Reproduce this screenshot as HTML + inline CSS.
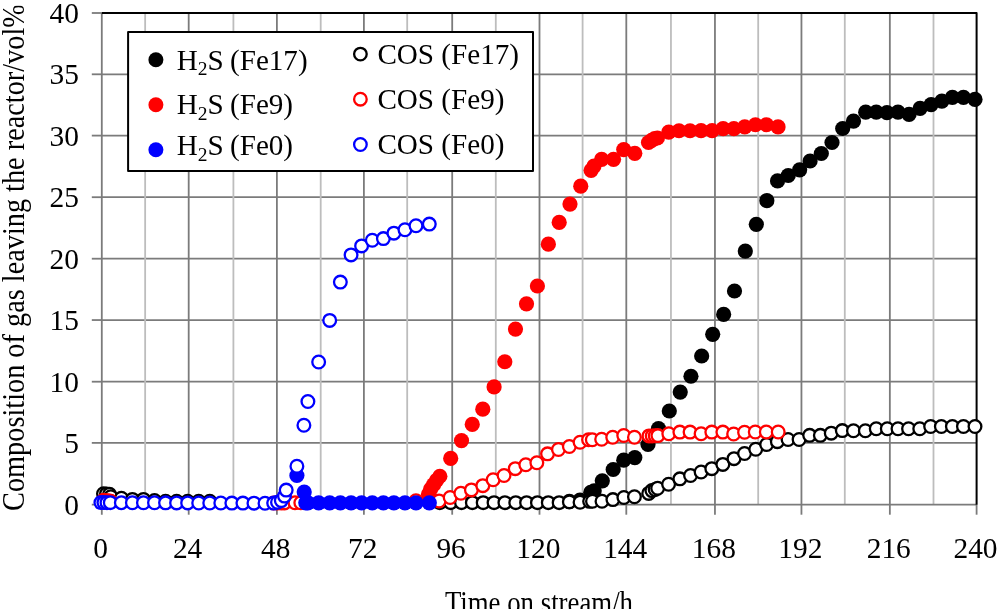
<!DOCTYPE html>
<html><head><meta charset="utf-8"><title>Chart</title>
<style>
html,body{margin:0;padding:0;background:#fff;}
body{width:1000px;height:612px;position:relative;overflow:hidden;font-family:"Liberation Serif",serif;}
</style></head><body>
<svg width="1000" height="612" viewBox="0 0 1000 612" style="position:absolute;left:0;top:0;will-change:transform"><line x1="101.80" x2="976.60" y1="442.90" y2="442.90" stroke="#7b7b7b" stroke-width="1.8"/><line x1="101.80" x2="976.60" y1="381.70" y2="381.70" stroke="#7b7b7b" stroke-width="1.8"/><line x1="101.80" x2="976.60" y1="320.05" y2="320.05" stroke="#7b7b7b" stroke-width="1.8"/><line x1="101.80" x2="976.60" y1="258.70" y2="258.70" stroke="#7b7b7b" stroke-width="1.8"/><line x1="101.80" x2="976.60" y1="197.20" y2="197.20" stroke="#7b7b7b" stroke-width="1.8"/><line x1="101.80" x2="976.60" y1="135.60" y2="135.60" stroke="#7b7b7b" stroke-width="1.8"/><line x1="101.80" x2="976.60" y1="74.30" y2="74.30" stroke="#7b7b7b" stroke-width="1.8"/><line x1="145.15" x2="145.15" y1="13.00" y2="504.70" stroke="#bdbdbd" stroke-width="1.8"/><line x1="188.70" x2="188.70" y1="13.00" y2="504.70" stroke="#7b7b7b" stroke-width="1.8"/><line x1="233.40" x2="233.40" y1="13.00" y2="504.70" stroke="#bdbdbd" stroke-width="1.8"/><line x1="276.90" x2="276.90" y1="13.00" y2="504.70" stroke="#7b7b7b" stroke-width="1.8"/><line x1="320.70" x2="320.70" y1="13.00" y2="504.70" stroke="#bdbdbd" stroke-width="1.8"/><line x1="363.90" x2="363.90" y1="13.00" y2="504.70" stroke="#7b7b7b" stroke-width="1.8"/><line x1="407.20" x2="407.20" y1="13.00" y2="504.70" stroke="#bdbdbd" stroke-width="1.8"/><line x1="452.20" x2="452.20" y1="13.00" y2="504.70" stroke="#7b7b7b" stroke-width="1.8"/><line x1="495.80" x2="495.80" y1="13.00" y2="504.70" stroke="#bdbdbd" stroke-width="1.8"/><line x1="539.50" x2="539.50" y1="13.00" y2="504.70" stroke="#7b7b7b" stroke-width="1.8"/><line x1="582.60" x2="582.60" y1="13.00" y2="504.70" stroke="#bdbdbd" stroke-width="1.8"/><line x1="626.30" x2="626.30" y1="13.00" y2="504.70" stroke="#7b7b7b" stroke-width="1.8"/><line x1="670.95" x2="670.95" y1="13.00" y2="504.70" stroke="#bdbdbd" stroke-width="1.8"/><line x1="714.95" x2="714.95" y1="13.00" y2="504.70" stroke="#7b7b7b" stroke-width="1.8"/><line x1="758.20" x2="758.20" y1="13.00" y2="504.70" stroke="#bdbdbd" stroke-width="1.8"/><line x1="801.45" x2="801.45" y1="13.00" y2="504.70" stroke="#7b7b7b" stroke-width="1.8"/><line x1="844.80" x2="844.80" y1="13.00" y2="504.70" stroke="#bdbdbd" stroke-width="1.8"/><line x1="889.85" x2="889.85" y1="13.00" y2="504.70" stroke="#7b7b7b" stroke-width="1.8"/><line x1="933.50" x2="933.50" y1="13.00" y2="504.70" stroke="#bdbdbd" stroke-width="1.8"/><line x1="101.80" x2="101.80" y1="13.00" y2="514.70" stroke="#7b7b7b" stroke-width="1.8"/><line x1="91.80" x2="976.60" y1="504.70" y2="504.70" stroke="#7b7b7b" stroke-width="1.8"/><line x1="91.80" x2="101.80" y1="442.90" y2="442.90" stroke="#7b7b7b" stroke-width="1.8"/><line x1="91.80" x2="101.80" y1="381.70" y2="381.70" stroke="#7b7b7b" stroke-width="1.8"/><line x1="91.80" x2="101.80" y1="320.05" y2="320.05" stroke="#7b7b7b" stroke-width="1.8"/><line x1="91.80" x2="101.80" y1="258.70" y2="258.70" stroke="#7b7b7b" stroke-width="1.8"/><line x1="91.80" x2="101.80" y1="197.20" y2="197.20" stroke="#7b7b7b" stroke-width="1.8"/><line x1="91.80" x2="101.80" y1="135.60" y2="135.60" stroke="#7b7b7b" stroke-width="1.8"/><line x1="91.80" x2="101.80" y1="74.30" y2="74.30" stroke="#7b7b7b" stroke-width="1.8"/><line x1="91.80" x2="101.80" y1="13.00" y2="13.00" stroke="#7b7b7b" stroke-width="1.8"/><line x1="188.70" x2="188.70" y1="504.70" y2="514.70" stroke="#7b7b7b" stroke-width="1.8"/><line x1="276.90" x2="276.90" y1="504.70" y2="514.70" stroke="#7b7b7b" stroke-width="1.8"/><line x1="363.90" x2="363.90" y1="504.70" y2="514.70" stroke="#7b7b7b" stroke-width="1.8"/><line x1="452.20" x2="452.20" y1="504.70" y2="514.70" stroke="#7b7b7b" stroke-width="1.8"/><line x1="539.50" x2="539.50" y1="504.70" y2="514.70" stroke="#7b7b7b" stroke-width="1.8"/><line x1="626.30" x2="626.30" y1="504.70" y2="514.70" stroke="#7b7b7b" stroke-width="1.8"/><line x1="714.95" x2="714.95" y1="504.70" y2="514.70" stroke="#7b7b7b" stroke-width="1.8"/><line x1="801.45" x2="801.45" y1="504.70" y2="514.70" stroke="#7b7b7b" stroke-width="1.8"/><line x1="889.85" x2="889.85" y1="504.70" y2="514.70" stroke="#7b7b7b" stroke-width="1.8"/><line x1="976.60" x2="976.60" y1="504.70" y2="514.70" stroke="#7b7b7b" stroke-width="1.8"/><path d="M101.80 13.00 H976.60 V504.70" fill="none" stroke="#000" stroke-width="2" stroke-linejoin="round"/><rect x="128.1" y="32.0" width="404.9" height="139.0" fill="#fff" stroke="#000" stroke-width="2" stroke-linejoin="round"/><circle cx="569.40" cy="501.30" r="7.6" fill="#000"/><circle cx="580.00" cy="500.00" r="7.6" fill="#000"/><circle cx="590.80" cy="492.30" r="7.6" fill="#000"/><circle cx="594.20" cy="490.80" r="7.6" fill="#000"/><circle cx="602.30" cy="480.80" r="7.6" fill="#000"/><circle cx="613.20" cy="469.50" r="7.6" fill="#000"/><circle cx="623.75" cy="460.15" r="7.6" fill="#000"/><circle cx="634.80" cy="457.60" r="7.6" fill="#000"/><circle cx="648.00" cy="444.50" r="7.6" fill="#000"/><circle cx="658.50" cy="428.50" r="7.6" fill="#000"/><circle cx="669.30" cy="411.00" r="7.6" fill="#000"/><circle cx="680.25" cy="392.05" r="7.6" fill="#000"/><circle cx="690.95" cy="376.25" r="7.6" fill="#000"/><circle cx="701.65" cy="356.00" r="7.6" fill="#000"/><circle cx="712.70" cy="334.30" r="7.6" fill="#000"/><circle cx="723.65" cy="314.45" r="7.6" fill="#000"/><circle cx="734.50" cy="291.00" r="7.6" fill="#000"/><circle cx="745.30" cy="251.10" r="7.6" fill="#000"/><circle cx="756.30" cy="224.30" r="7.6" fill="#000"/><circle cx="766.85" cy="200.65" r="7.6" fill="#000"/><circle cx="777.55" cy="180.95" r="7.6" fill="#000"/><circle cx="788.25" cy="175.50" r="7.6" fill="#000"/><circle cx="799.65" cy="169.80" r="7.6" fill="#000"/><circle cx="810.10" cy="161.00" r="7.6" fill="#000"/><circle cx="821.30" cy="153.50" r="7.6" fill="#000"/><circle cx="832.00" cy="142.50" r="7.6" fill="#000"/><circle cx="842.70" cy="128.50" r="7.6" fill="#000"/><circle cx="853.50" cy="121.10" r="7.6" fill="#000"/><circle cx="865.70" cy="112.20" r="7.6" fill="#000"/><circle cx="876.25" cy="112.20" r="7.6" fill="#000"/><circle cx="886.95" cy="112.70" r="7.6" fill="#000"/><circle cx="898.00" cy="112.20" r="7.6" fill="#000"/><circle cx="909.05" cy="114.40" r="7.6" fill="#000"/><circle cx="920.10" cy="108.45" r="7.6" fill="#000"/><circle cx="931.15" cy="104.55" r="7.6" fill="#000"/><circle cx="941.85" cy="101.15" r="7.6" fill="#000"/><circle cx="952.40" cy="97.40" r="7.6" fill="#000"/><circle cx="963.45" cy="97.40" r="7.6" fill="#000"/><circle cx="975.00" cy="99.45" r="7.6" fill="#000"/><circle cx="103.50" cy="493.80" r="6.35" fill="#fff" stroke="#000" stroke-width="2.3"/><circle cx="106.50" cy="493.90" r="6.35" fill="#fff" stroke="#000" stroke-width="2.3"/><circle cx="109.50" cy="494.20" r="6.35" fill="#fff" stroke="#000" stroke-width="2.3"/><circle cx="110.80" cy="496.70" r="6.35" fill="#fff" stroke="#000" stroke-width="2.3"/><circle cx="121.40" cy="498.20" r="6.35" fill="#fff" stroke="#000" stroke-width="2.3"/><circle cx="132.40" cy="499.40" r="6.35" fill="#fff" stroke="#000" stroke-width="2.3"/><circle cx="143.45" cy="499.40" r="6.35" fill="#fff" stroke="#000" stroke-width="2.3"/><circle cx="154.50" cy="500.50" r="6.35" fill="#fff" stroke="#000" stroke-width="2.3"/><circle cx="165.55" cy="501.30" r="6.35" fill="#fff" stroke="#000" stroke-width="2.3"/><circle cx="176.60" cy="501.30" r="6.35" fill="#fff" stroke="#000" stroke-width="2.3"/><circle cx="187.65" cy="501.30" r="6.35" fill="#fff" stroke="#000" stroke-width="2.3"/><circle cx="198.70" cy="501.30" r="6.35" fill="#fff" stroke="#000" stroke-width="2.3"/><circle cx="209.75" cy="501.30" r="6.35" fill="#fff" stroke="#000" stroke-width="2.3"/><circle cx="439.80" cy="502.65" r="6.35" fill="#fff" stroke="#000" stroke-width="2.3"/><circle cx="450.65" cy="502.65" r="6.35" fill="#fff" stroke="#000" stroke-width="2.3"/><circle cx="461.50" cy="502.65" r="6.35" fill="#fff" stroke="#000" stroke-width="2.3"/><circle cx="472.35" cy="502.65" r="6.35" fill="#fff" stroke="#000" stroke-width="2.3"/><circle cx="483.20" cy="502.65" r="6.35" fill="#fff" stroke="#000" stroke-width="2.3"/><circle cx="494.05" cy="502.65" r="6.35" fill="#fff" stroke="#000" stroke-width="2.3"/><circle cx="504.90" cy="502.65" r="6.35" fill="#fff" stroke="#000" stroke-width="2.3"/><circle cx="515.75" cy="502.65" r="6.35" fill="#fff" stroke="#000" stroke-width="2.3"/><circle cx="526.60" cy="502.65" r="6.35" fill="#fff" stroke="#000" stroke-width="2.3"/><circle cx="537.45" cy="502.65" r="6.35" fill="#fff" stroke="#000" stroke-width="2.3"/><circle cx="548.30" cy="502.65" r="6.35" fill="#fff" stroke="#000" stroke-width="2.3"/><circle cx="559.15" cy="502.65" r="6.35" fill="#fff" stroke="#000" stroke-width="2.3"/><circle cx="569.35" cy="501.90" r="6.35" fill="#fff" stroke="#000" stroke-width="2.3"/><circle cx="580.05" cy="502.20" r="6.35" fill="#fff" stroke="#000" stroke-width="2.3"/><circle cx="589.60" cy="501.35" r="6.35" fill="#fff" stroke="#000" stroke-width="2.3"/><circle cx="592.50" cy="501.20" r="6.35" fill="#fff" stroke="#000" stroke-width="2.3"/><circle cx="602.00" cy="501.20" r="6.35" fill="#fff" stroke="#000" stroke-width="2.3"/><circle cx="612.90" cy="499.60" r="6.35" fill="#fff" stroke="#000" stroke-width="2.3"/><circle cx="623.90" cy="497.55" r="6.35" fill="#fff" stroke="#000" stroke-width="2.3"/><circle cx="634.45" cy="496.70" r="6.35" fill="#fff" stroke="#000" stroke-width="2.3"/><circle cx="648.70" cy="493.40" r="6.35" fill="#fff" stroke="#000" stroke-width="2.3"/><circle cx="651.90" cy="490.60" r="6.35" fill="#fff" stroke="#000" stroke-width="2.3"/><circle cx="655.15" cy="489.50" r="6.35" fill="#fff" stroke="#000" stroke-width="2.3"/><circle cx="657.65" cy="488.20" r="6.35" fill="#fff" stroke="#000" stroke-width="2.3"/><circle cx="668.60" cy="484.20" r="6.35" fill="#fff" stroke="#000" stroke-width="2.3"/><circle cx="679.85" cy="478.85" r="6.35" fill="#fff" stroke="#000" stroke-width="2.3"/><circle cx="690.55" cy="475.45" r="6.35" fill="#fff" stroke="#000" stroke-width="2.3"/><circle cx="701.10" cy="472.05" r="6.35" fill="#fff" stroke="#000" stroke-width="2.3"/><circle cx="711.80" cy="468.65" r="6.35" fill="#fff" stroke="#000" stroke-width="2.3"/><circle cx="722.85" cy="464.40" r="6.35" fill="#fff" stroke="#000" stroke-width="2.3"/><circle cx="734.00" cy="458.65" r="6.35" fill="#fff" stroke="#000" stroke-width="2.3"/><circle cx="744.55" cy="453.55" r="6.35" fill="#fff" stroke="#000" stroke-width="2.3"/><circle cx="755.75" cy="449.30" r="6.35" fill="#fff" stroke="#000" stroke-width="2.3"/><circle cx="766.65" cy="444.55" r="6.35" fill="#fff" stroke="#000" stroke-width="2.3"/><circle cx="777.35" cy="441.65" r="6.35" fill="#fff" stroke="#000" stroke-width="2.3"/><circle cx="788.05" cy="439.45" r="6.35" fill="#fff" stroke="#000" stroke-width="2.3"/><circle cx="799.10" cy="439.45" r="6.35" fill="#fff" stroke="#000" stroke-width="2.3"/><circle cx="809.65" cy="435.35" r="6.35" fill="#fff" stroke="#000" stroke-width="2.3"/><circle cx="820.35" cy="435.35" r="6.35" fill="#fff" stroke="#000" stroke-width="2.3"/><circle cx="831.25" cy="433.15" r="6.35" fill="#fff" stroke="#000" stroke-width="2.3"/><circle cx="842.30" cy="430.60" r="6.35" fill="#fff" stroke="#000" stroke-width="2.3"/><circle cx="853.45" cy="430.80" r="6.35" fill="#fff" stroke="#000" stroke-width="2.3"/><circle cx="865.35" cy="430.80" r="6.35" fill="#fff" stroke="#000" stroke-width="2.3"/><circle cx="876.25" cy="428.75" r="6.35" fill="#fff" stroke="#000" stroke-width="2.3"/><circle cx="887.30" cy="428.75" r="6.35" fill="#fff" stroke="#000" stroke-width="2.3"/><circle cx="898.00" cy="428.75" r="6.35" fill="#fff" stroke="#000" stroke-width="2.3"/><circle cx="908.55" cy="428.75" r="6.35" fill="#fff" stroke="#000" stroke-width="2.3"/><circle cx="919.75" cy="428.75" r="6.35" fill="#fff" stroke="#000" stroke-width="2.3"/><circle cx="930.65" cy="426.55" r="6.35" fill="#fff" stroke="#000" stroke-width="2.3"/><circle cx="941.35" cy="426.55" r="6.35" fill="#fff" stroke="#000" stroke-width="2.3"/><circle cx="952.40" cy="426.55" r="6.35" fill="#fff" stroke="#000" stroke-width="2.3"/><circle cx="963.45" cy="426.55" r="6.35" fill="#fff" stroke="#000" stroke-width="2.3"/><circle cx="975.00" cy="426.55" r="6.35" fill="#fff" stroke="#000" stroke-width="2.3"/><circle cx="428.45" cy="494.30" r="7.6" fill="#f00"/><circle cx="430.65" cy="489.10" r="7.6" fill="#f00"/><circle cx="433.60" cy="484.70" r="7.6" fill="#f00"/><circle cx="436.55" cy="480.30" r="7.6" fill="#f00"/><circle cx="439.85" cy="476.25" r="7.6" fill="#f00"/><circle cx="450.70" cy="458.45" r="7.6" fill="#f00"/><circle cx="461.50" cy="440.60" r="7.6" fill="#f00"/><circle cx="472.25" cy="424.45" r="7.6" fill="#f00"/><circle cx="482.80" cy="409.15" r="7.6" fill="#f00"/><circle cx="494.10" cy="386.90" r="7.6" fill="#f00"/><circle cx="504.80" cy="361.75" r="7.6" fill="#f00"/><circle cx="515.50" cy="329.10" r="7.6" fill="#f00"/><circle cx="526.50" cy="303.80" r="7.6" fill="#f00"/><circle cx="537.40" cy="286.00" r="7.6" fill="#f00"/><circle cx="548.35" cy="244.20" r="7.6" fill="#f00"/><circle cx="559.20" cy="222.45" r="7.6" fill="#f00"/><circle cx="570.00" cy="204.10" r="7.6" fill="#f00"/><circle cx="580.75" cy="186.20" r="7.6" fill="#f00"/><circle cx="591.10" cy="170.35" r="7.6" fill="#f00"/><circle cx="594.00" cy="166.10" r="7.6" fill="#f00"/><circle cx="601.65" cy="159.30" r="7.6" fill="#f00"/><circle cx="613.55" cy="159.30" r="7.6" fill="#f00"/><circle cx="623.75" cy="149.60" r="7.6" fill="#f00"/><circle cx="634.80" cy="153.35" r="7.6" fill="#f00"/><circle cx="648.50" cy="142.50" r="7.6" fill="#f00"/><circle cx="651.70" cy="140.30" r="7.6" fill="#f00"/><circle cx="654.70" cy="138.50" r="7.6" fill="#f00"/><circle cx="657.40" cy="138.00" r="7.6" fill="#f00"/><circle cx="668.80" cy="132.10" r="7.6" fill="#f00"/><circle cx="679.00" cy="130.75" r="7.6" fill="#f00"/><circle cx="690.05" cy="130.75" r="7.6" fill="#f00"/><circle cx="701.05" cy="130.70" r="7.6" fill="#f00"/><circle cx="712.10" cy="130.70" r="7.6" fill="#f00"/><circle cx="723.15" cy="128.65" r="7.6" fill="#f00"/><circle cx="733.85" cy="128.65" r="7.6" fill="#f00"/><circle cx="744.75" cy="126.95" r="7.6" fill="#f00"/><circle cx="755.45" cy="124.75" r="7.6" fill="#f00"/><circle cx="766.50" cy="124.75" r="7.6" fill="#f00"/><circle cx="778.05" cy="126.95" r="7.6" fill="#f00"/><circle cx="103.50" cy="500.20" r="6.35" fill="#fff" stroke="#f00" stroke-width="2.3"/><circle cx="106.50" cy="500.50" r="6.35" fill="#fff" stroke="#f00" stroke-width="2.3"/><circle cx="109.50" cy="500.90" r="6.35" fill="#fff" stroke="#f00" stroke-width="2.3"/><circle cx="110.60" cy="501.30" r="6.35" fill="#fff" stroke="#f00" stroke-width="2.3"/><circle cx="273.65" cy="502.90" r="6.35" fill="#fff" stroke="#f00" stroke-width="2.3"/><circle cx="277.50" cy="502.90" r="6.35" fill="#fff" stroke="#f00" stroke-width="2.3"/><circle cx="281.30" cy="502.90" r="6.35" fill="#fff" stroke="#f00" stroke-width="2.3"/><circle cx="284.50" cy="502.90" r="6.35" fill="#fff" stroke="#f00" stroke-width="2.3"/><circle cx="295.00" cy="502.80" r="6.35" fill="#fff" stroke="#f00" stroke-width="2.3"/><circle cx="300.80" cy="502.80" r="6.35" fill="#fff" stroke="#f00" stroke-width="2.3"/><circle cx="415.95" cy="500.70" r="6.35" fill="#fff" stroke="#f00" stroke-width="2.3"/><circle cx="439.10" cy="500.95" r="6.35" fill="#fff" stroke="#f00" stroke-width="2.3"/><circle cx="450.15" cy="497.55" r="6.35" fill="#fff" stroke="#f00" stroke-width="2.3"/><circle cx="460.85" cy="493.30" r="6.35" fill="#fff" stroke="#f00" stroke-width="2.3"/><circle cx="471.40" cy="489.90" r="6.35" fill="#fff" stroke="#f00" stroke-width="2.3"/><circle cx="482.80" cy="485.65" r="6.35" fill="#fff" stroke="#f00" stroke-width="2.3"/><circle cx="493.15" cy="479.70" r="6.35" fill="#fff" stroke="#f00" stroke-width="2.3"/><circle cx="504.05" cy="475.45" r="6.35" fill="#fff" stroke="#f00" stroke-width="2.3"/><circle cx="515.25" cy="468.65" r="6.35" fill="#fff" stroke="#f00" stroke-width="2.3"/><circle cx="525.80" cy="464.75" r="6.35" fill="#fff" stroke="#f00" stroke-width="2.3"/><circle cx="536.85" cy="462.70" r="6.35" fill="#fff" stroke="#f00" stroke-width="2.3"/><circle cx="547.55" cy="453.85" r="6.35" fill="#fff" stroke="#f00" stroke-width="2.3"/><circle cx="558.45" cy="449.45" r="6.35" fill="#fff" stroke="#f00" stroke-width="2.3"/><circle cx="569.35" cy="446.55" r="6.35" fill="#fff" stroke="#f00" stroke-width="2.3"/><circle cx="580.05" cy="442.30" r="6.35" fill="#fff" stroke="#f00" stroke-width="2.3"/><circle cx="588.55" cy="439.75" r="6.35" fill="#fff" stroke="#f00" stroke-width="2.3"/><circle cx="592.30" cy="439.75" r="6.35" fill="#fff" stroke="#f00" stroke-width="2.3"/><circle cx="601.65" cy="439.25" r="6.35" fill="#fff" stroke="#f00" stroke-width="2.3"/><circle cx="612.70" cy="437.20" r="6.35" fill="#fff" stroke="#f00" stroke-width="2.3"/><circle cx="623.75" cy="435.50" r="6.35" fill="#fff" stroke="#f00" stroke-width="2.3"/><circle cx="634.45" cy="437.20" r="6.35" fill="#fff" stroke="#f00" stroke-width="2.3"/><circle cx="649.00" cy="435.90" r="6.35" fill="#fff" stroke="#f00" stroke-width="2.3"/><circle cx="652.20" cy="435.90" r="6.35" fill="#fff" stroke="#f00" stroke-width="2.3"/><circle cx="655.20" cy="435.80" r="6.35" fill="#fff" stroke="#f00" stroke-width="2.3"/><circle cx="657.90" cy="435.60" r="6.35" fill="#fff" stroke="#f00" stroke-width="2.3"/><circle cx="668.80" cy="433.80" r="6.35" fill="#fff" stroke="#f00" stroke-width="2.3"/><circle cx="679.85" cy="432.10" r="6.35" fill="#fff" stroke="#f00" stroke-width="2.3"/><circle cx="690.05" cy="432.10" r="6.35" fill="#fff" stroke="#f00" stroke-width="2.3"/><circle cx="701.10" cy="433.80" r="6.35" fill="#fff" stroke="#f00" stroke-width="2.3"/><circle cx="711.80" cy="432.10" r="6.35" fill="#fff" stroke="#f00" stroke-width="2.3"/><circle cx="722.85" cy="432.10" r="6.35" fill="#fff" stroke="#f00" stroke-width="2.3"/><circle cx="733.65" cy="434.00" r="6.35" fill="#fff" stroke="#f00" stroke-width="2.3"/><circle cx="744.55" cy="432.30" r="6.35" fill="#fff" stroke="#f00" stroke-width="2.3"/><circle cx="755.25" cy="431.95" r="6.35" fill="#fff" stroke="#f00" stroke-width="2.3"/><circle cx="766.30" cy="431.95" r="6.35" fill="#fff" stroke="#f00" stroke-width="2.3"/><circle cx="778.20" cy="431.95" r="6.35" fill="#fff" stroke="#f00" stroke-width="2.3"/><circle cx="296.90" cy="475.50" r="7.6" fill="#00f"/><circle cx="304.20" cy="492.00" r="7.6" fill="#00f"/><circle cx="305.80" cy="502.80" r="7.6" fill="#00f"/><circle cx="307.90" cy="502.80" r="7.6" fill="#00f"/><circle cx="318.65" cy="502.80" r="7.6" fill="#00f"/><circle cx="329.70" cy="502.80" r="7.6" fill="#00f"/><circle cx="340.35" cy="502.80" r="7.6" fill="#00f"/><circle cx="351.06" cy="502.80" r="7.6" fill="#00f"/><circle cx="361.60" cy="502.80" r="7.6" fill="#00f"/><circle cx="372.30" cy="502.80" r="7.6" fill="#00f"/><circle cx="383.40" cy="502.80" r="7.6" fill="#00f"/><circle cx="393.90" cy="502.80" r="7.6" fill="#00f"/><circle cx="404.96" cy="502.80" r="7.6" fill="#00f"/><circle cx="416.00" cy="502.80" r="7.6" fill="#00f"/><circle cx="429.30" cy="502.80" r="7.6" fill="#00f"/><circle cx="100.90" cy="502.60" r="6.35" fill="#fff" stroke="#00f" stroke-width="2.3"/><circle cx="103.90" cy="502.61" r="6.35" fill="#fff" stroke="#00f" stroke-width="2.3"/><circle cx="107.00" cy="502.63" r="6.35" fill="#fff" stroke="#00f" stroke-width="2.3"/><circle cx="110.30" cy="502.64" r="6.35" fill="#fff" stroke="#00f" stroke-width="2.3"/><circle cx="121.35" cy="502.68" r="6.35" fill="#fff" stroke="#00f" stroke-width="2.3"/><circle cx="132.40" cy="502.72" r="6.35" fill="#fff" stroke="#00f" stroke-width="2.3"/><circle cx="143.45" cy="502.76" r="6.35" fill="#fff" stroke="#00f" stroke-width="2.3"/><circle cx="154.50" cy="502.80" r="6.35" fill="#fff" stroke="#00f" stroke-width="2.3"/><circle cx="165.55" cy="502.84" r="6.35" fill="#fff" stroke="#00f" stroke-width="2.3"/><circle cx="176.60" cy="502.88" r="6.35" fill="#fff" stroke="#00f" stroke-width="2.3"/><circle cx="187.65" cy="502.92" r="6.35" fill="#fff" stroke="#00f" stroke-width="2.3"/><circle cx="198.70" cy="502.96" r="6.35" fill="#fff" stroke="#00f" stroke-width="2.3"/><circle cx="209.75" cy="503.00" r="6.35" fill="#fff" stroke="#00f" stroke-width="2.3"/><circle cx="220.80" cy="503.04" r="6.35" fill="#fff" stroke="#00f" stroke-width="2.3"/><circle cx="231.85" cy="503.08" r="6.35" fill="#fff" stroke="#00f" stroke-width="2.3"/><circle cx="242.90" cy="503.12" r="6.35" fill="#fff" stroke="#00f" stroke-width="2.3"/><circle cx="253.95" cy="503.16" r="6.35" fill="#fff" stroke="#00f" stroke-width="2.3"/><circle cx="265.00" cy="503.20" r="6.35" fill="#fff" stroke="#00f" stroke-width="2.3"/><circle cx="273.65" cy="503.10" r="6.35" fill="#fff" stroke="#00f" stroke-width="2.3"/><circle cx="277.50" cy="502.30" r="6.35" fill="#fff" stroke="#00f" stroke-width="2.3"/><circle cx="281.30" cy="500.60" r="6.35" fill="#fff" stroke="#00f" stroke-width="2.3"/><circle cx="284.50" cy="496.10" r="6.35" fill="#fff" stroke="#00f" stroke-width="2.3"/><circle cx="286.20" cy="490.10" r="6.35" fill="#fff" stroke="#00f" stroke-width="2.3"/><circle cx="296.90" cy="466.20" r="6.35" fill="#fff" stroke="#00f" stroke-width="2.3"/><circle cx="303.90" cy="425.20" r="6.35" fill="#fff" stroke="#00f" stroke-width="2.3"/><circle cx="307.90" cy="401.50" r="6.35" fill="#fff" stroke="#00f" stroke-width="2.3"/><circle cx="318.65" cy="362.05" r="6.35" fill="#fff" stroke="#00f" stroke-width="2.3"/><circle cx="329.70" cy="320.40" r="6.35" fill="#fff" stroke="#00f" stroke-width="2.3"/><circle cx="340.35" cy="282.10" r="6.35" fill="#fff" stroke="#00f" stroke-width="2.3"/><circle cx="351.06" cy="254.90" r="6.35" fill="#fff" stroke="#00f" stroke-width="2.3"/><circle cx="361.60" cy="245.90" r="6.35" fill="#fff" stroke="#00f" stroke-width="2.3"/><circle cx="372.30" cy="240.30" r="6.35" fill="#fff" stroke="#00f" stroke-width="2.3"/><circle cx="383.40" cy="238.60" r="6.35" fill="#fff" stroke="#00f" stroke-width="2.3"/><circle cx="393.90" cy="233.15" r="6.35" fill="#fff" stroke="#00f" stroke-width="2.3"/><circle cx="404.96" cy="229.75" r="6.35" fill="#fff" stroke="#00f" stroke-width="2.3"/><circle cx="416.00" cy="225.80" r="6.35" fill="#fff" stroke="#00f" stroke-width="2.3"/><circle cx="429.30" cy="224.10" r="6.35" fill="#fff" stroke="#00f" stroke-width="2.3"/><circle cx="155.9" cy="59.7" r="7.5" fill="#000"/><circle cx="155.9" cy="104.75" r="7.5" fill="#f00"/><circle cx="155.9" cy="149.8" r="7.5" fill="#00f"/><circle cx="360.4" cy="54.1" r="6.3" fill="#fff" stroke="#000" stroke-width="2.3"/><circle cx="360.4" cy="99.2" r="6.3" fill="#fff" stroke="#f00" stroke-width="2.3"/><circle cx="360.4" cy="144.5" r="6.3" fill="#fff" stroke="#00f" stroke-width="2.3"/><g font-family="'Liberation Serif', serif" fill="#000" opacity="0.999"><text x="79.00" y="514.70" font-size="29.4" text-anchor="end" >0</text><text x="79.00" y="452.90" font-size="29.4" text-anchor="end" >5</text><text x="79.00" y="391.70" font-size="29.4" text-anchor="end" >10</text><text x="79.00" y="330.05" font-size="29.4" text-anchor="end" >15</text><text x="79.00" y="268.70" font-size="29.4" text-anchor="end" >20</text><text x="79.00" y="207.20" font-size="29.4" text-anchor="end" >25</text><text x="79.00" y="145.60" font-size="29.4" text-anchor="end" >30</text><text x="79.00" y="84.30" font-size="29.4" text-anchor="end" >35</text><text x="79.00" y="23.00" font-size="29.4" text-anchor="end" >40</text><text x="100.70" y="558.20" font-size="29.4" text-anchor="middle" >0</text><text x="187.60" y="558.20" font-size="29.4" text-anchor="middle" >24</text><text x="275.80" y="558.20" font-size="29.4" text-anchor="middle" >48</text><text x="362.80" y="558.20" font-size="29.4" text-anchor="middle" >72</text><text x="451.10" y="558.20" font-size="29.4" text-anchor="middle" >96</text><text x="538.40" y="558.20" font-size="29.4" text-anchor="middle" >120</text><text x="625.20" y="558.20" font-size="29.4" text-anchor="middle" >144</text><text x="713.85" y="558.20" font-size="29.4" text-anchor="middle" >168</text><text x="800.35" y="558.20" font-size="29.4" text-anchor="middle" >192</text><text x="888.75" y="558.20" font-size="29.4" text-anchor="middle" >216</text><text x="975.50" y="558.20" font-size="29.4" text-anchor="middle" >240</text><text x="176.70" y="70.00" font-size="29.1" text-anchor="start" >H<tspan font-size="19.5" dy="5.3">2</tspan><tspan dy="-5.3">S</tspan><tspan dx="-0.9"> (Fe17)</tspan></text><text x="176.70" y="114.20" font-size="29.1" text-anchor="start" >H<tspan font-size="19.5" dy="5.3">2</tspan><tspan dy="-5.3">S</tspan><tspan dx="-0.9"> (Fe9)</tspan></text><text x="176.70" y="155.20" font-size="29.1" text-anchor="start" >H<tspan font-size="19.5" dy="5.3">2</tspan><tspan dy="-5.3">S</tspan><tspan dx="-0.9"> (Fe0)</tspan></text><text x="377.40" y="64.20" font-size="29.15" text-anchor="start" >COS (Fe17)</text><text x="377.40" y="109.30" font-size="29.15" text-anchor="start" >COS (Fe9)</text><text x="377.40" y="154.10" font-size="29.15" text-anchor="start" >COS (Fe0)</text></g><defs><clipPath id="cx"><rect x="0" y="0" width="1000" height="609"/></clipPath><clipPath id="cy"><rect x="0" y="5.7" width="100" height="606.3"/></clipPath></defs><g clip-path="url(#cx)"><text transform="translate(444.9 612.5) scale(0.865 1)" font-family="'Liberation Serif', serif" font-size="31" fill="#000">Time on stream/h</text></g><g clip-path="url(#cy)"><text transform="translate(23.7 510.9) rotate(-90) scale(0.928 1)" font-family="'Liberation Serif', serif" font-size="30.5" fill="#000">Composition of gas leaving the reactor/vol%</text></g></svg>
</body></html>
